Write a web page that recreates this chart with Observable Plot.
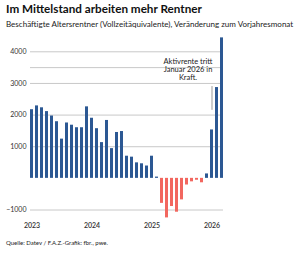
<!DOCTYPE html>
<html><head><meta charset="utf-8">
<script src="https://cdn.jsdelivr.net/npm/d3@7"></script>
<script src="https://cdn.jsdelivr.net/npm/@observablehq/plot@0.6"></script>
<style>
body{margin:0;background:#fff;font-family:Lato, sans-serif;}
#wrap{position:relative;width:300px;height:257px;overflow:hidden;background:#fff}
.title{position:absolute;left:6px;top:1px;font-weight:700;font-size:12.5px;color:#111;white-space:nowrap}
.sub{position:absolute;left:6px;top:19px;font-size:8px;color:#222;white-space:nowrap}
#chart{position:absolute;left:0;top:32px}
.cap{position:absolute;left:6px;top:239px;font-size:6.5px;color:#222;white-space:nowrap}
</style></head>
<body><div id="wrap">
<div class="title" id="title">Im Mittelstand arbeiten mehr Rentner</div>
<div class="sub" id="sub">Beschäftigte Altersrentner (Vollzeitäquivalente), Veränderung zum Vorjahresmonat</div>
<div id="chart"></div>
<div class="cap" id="cap">Quelle: Datev / F.A.Z.-Grafik: fbr., pwe.</div>
</div>
<script>
const years = ["2023", "2024", "2025", "2026"];
const values2023 = [2170, 2290, 2230, 2110, 1970, 1790, 1240, 1750, 1680, 1600, 1600, 2260];
const values2024 = [1900, 1570, 1130, 1830, 940, 1450, 1480, 700, 670, 490, 460, 390];
const values2025 = [700, 40, -790, -1250, -890, -1070, -680, -210, -110, -60, -140, 140];
const values2026 = [1530, 2870, 4440];
const yTicks = [-1000, 1000, 2000, 3000, 4000];
const gridLines = [-1000, 1000, 2000, 3000, 3500, 4000];
const annotationText = "Aktivrente tritt\nJanuar 2026 in\nKraft.";

const series = [values2023, values2024, values2025, values2026];
const data = [];
series.forEach((vals, yi) => vals.forEach((v, mi) => {
  data.push({month: years[yi] + "-" + String(mi + 1).padStart(2, "0"), value: v});
}));
const months = data.map(d => d.month);
const yearTicks = years.map(y => y + "-01");

const blue = "#2c5893", red = "#f2675f";

const chart = Plot.plot({
  width: 300, height: 200,
  marginLeft: 30, marginRight: 77, marginTop: 0, marginBottom: 20,
  style: {fontFamily: "Lato, sans-serif", fontSize: "7px", color: "#333", background: "transparent"},
  x: {type: "band", domain: months, range: [28.2, 225.2], padding: 0.4, label: null},
  y: {domain: [-1000, 4000], range: [177.5, 19.3], label: null},
  marks: [
    Plot.ruleY(gridLines, {stroke: "#c8c8c8", strokeWidth: 1}),
    Plot.barY(data, {filter: d => d.value >= 0, x: "month", y: "value", fill: blue}),
    Plot.barY(data, {filter: d => d.value < 0, x: "month", y: "value", fill: red}),
    Plot.axisY(yTicks, {tickSize: 0, tickPadding: 4, label: null, fontSize: 7, fill: "#333", tickFormat: d => String(d).replace("-", "\u2212")}),
    Plot.axisX(yearTicks, {tickSize: 0, tickPadding: 11, tickFormat: d => d.slice(0, 4), fontWeight: 600, label: null, fontSize: 7, fill: "#333"}),
    Plot.ruleX(["2026-01"], {y1: 2150, y2: 2900, stroke: "#999", strokeWidth: 1}),
    Plot.text([annotationText], {x: () => "2025-08", y: () => 3440, text: d => d, textAnchor: "middle", lineAnchor: "middle", lineHeight: 1.1, fontSize: 7.5, fill: "#222", dx: 1})
  ]
});
document.getElementById("chart").appendChild(chart);

// fit header/footer texts to the reference widths
function fit(id, target) {
  const el = document.getElementById(id);
  const w = el.getBoundingClientRect().width;
  const fs = parseFloat(getComputedStyle(el).fontSize);
  el.style.fontSize = (fs * target / w) + "px";
}
fit("title", 196);
fit("sub", 288);
fit("cap", 102);
</script>
</body></html>
